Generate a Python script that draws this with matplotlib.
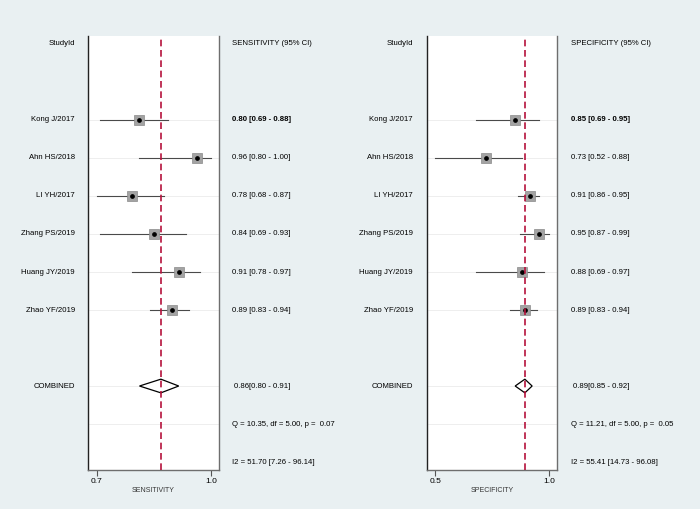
import matplotlib
matplotlib.use("Agg")
import matplotlib.pyplot as plt
from matplotlib.transforms import blended_transform_factory
from matplotlib.patches import Polygon

plt.rcParams['font.family'] = ['Liberation Sans', 'DejaVu Sans']

studies = ["Kong J/2017", "Ahn HS/2018", "LI YH/2017", "Zhang PS/2019", "Huang JY/2019", "Zhao YF/2019"]

sens = [0.80, 0.96, 0.78, 0.84, 0.91, 0.89]
sens_lo = [0.69, 0.80, 0.68, 0.69, 0.78, 0.83]
sens_hi = [0.88, 1.00, 0.87, 0.93, 0.97, 0.94]
sens_comb = [0.86, 0.80, 0.91]
sens_txt = ["0.80 [0.69 - 0.88]", "0.96 [0.80 - 1.00]", "0.78 [0.68 - 0.87]",
            "0.84 [0.69 - 0.93]", "0.91 [0.78 - 0.97]", "0.89 [0.83 - 0.94]"]
sens_comb_txt = "0.86[0.80 - 0.91]"
sens_q = "Q = 10.35, df = 5.00, p =  0.07"
sens_i2 = "I2 = 51.70 [7.26 - 96.14]"

spec = [0.85, 0.73, 0.91, 0.95, 0.88, 0.89]
spec_lo = [0.69, 0.52, 0.86, 0.87, 0.69, 0.83]
spec_hi = [0.95, 0.88, 0.95, 0.99, 0.97, 0.94]
spec_comb = [0.89, 0.85, 0.92]
spec_txt = ["0.85 [0.69 - 0.95]", "0.73 [0.52 - 0.88]", "0.91 [0.86 - 0.95]",
            "0.95 [0.87 - 0.99]", "0.88 [0.69 - 0.97]", "0.89 [0.83 - 0.94]"]
spec_comb_txt = "0.89[0.85 - 0.92]"
spec_q = "Q = 11.21, df = 5.00, p =  0.05"
spec_i2 = "I2 = 55.41 [14.73 - 96.08]"

bg = "#E9F0F2"
fs = 5.6

fig = plt.figure(figsize=(7, 5.09), dpi=100)
fig.patch.set_facecolor(bg)


def panel(ax_rect, lab_x, txt_x, est, lo, hi, comb, txt, comb_txt, q, i2, head, xlab, xlim):
    ax = fig.add_axes(ax_rect)
    ax.set_facecolor("white")
    rows = list(range(2, 2 + len(est)))
    for r in rows + [9, 10]:
        ax.axhline(r, color="#EBEBEB", lw=0.6, zorder=0)
    for r, e, l, h in zip(rows, est, lo, hi):
        ax.plot([l, h], [r, r], color="#4A4A4A", lw=0.8, zorder=2)
        ax.plot(e, r, marker="s", ms=7, color="#A3A3A3", mec="#8A8A8A", mew=0.5, zorder=3)
        ax.plot(e, r, marker="o", ms=2.4, color="black", zorder=4)
    # combined diamond
    c, cl, ch = comb
    dia = Polygon([[cl, 9], [c, 8.82], [ch, 9], [c, 9.18]], closed=True,
                  facecolor="white", edgecolor="black", lw=0.9, zorder=3)
    ax.add_patch(dia)
    ax.axvline(c, color="#B5123C", lw=1.2, ls=(0, (4, 2.2)), zorder=5)

    ax.set_xlim(*xlim)
    ax.set_ylim(11.21, -0.21)
    ax.set_yticks([])
    tks = [min(lo), max(hi)]
    ax.set_xticks(tks)
    ax.set_xticklabels(["%.1f" % t for t in tks], fontsize=6)
    ax.tick_params(axis="x", length=4, width=0.8, color="#555555", pad=2)
    ax.set_xlabel(xlab, fontsize=5, labelpad=1.5, color="#333333")
    ax.spines["top"].set_visible(False)
    ax.spines["left"].set_color("#222222")
    ax.spines["right"].set_color("#6E6E6E")
    ax.spines["bottom"].set_color("#6E6E6E")
    for s in ["left", "right", "bottom"]:
        ax.spines[s].set_linewidth(1.0)

    tr = blended_transform_factory(fig.transFigure, ax.transData)
    ax.text(lab_x, 0, "StudyId", transform=tr, ha="right", va="center", fontsize=fs, clip_on=False)
    ax.text(txt_x, 0, head, transform=tr, ha="left", va="center", fontsize=fs, clip_on=False)
    for i, (r, s, t) in enumerate(zip(rows, studies, txt)):
        ax.text(lab_x, r, s, transform=tr, ha="right", va="center", fontsize=fs, clip_on=False)
        ax.text(txt_x, r, t, transform=tr, ha="left", va="center", fontsize=fs,
                fontweight="bold" if i == 0 else "normal", clip_on=False)
    ax.text(lab_x, 9, "COMBINED", transform=tr, ha="right", va="center", fontsize=fs, clip_on=False)
    ax.text(txt_x + 0.003, 9, comb_txt, transform=tr, ha="left", va="center", fontsize=fs, clip_on=False)
    ax.text(txt_x, 10, q, transform=tr, ha="left", va="center", fontsize=fs, clip_on=False)
    ax.text(txt_x, 11, i2, transform=tr, ha="left", va="center", fontsize=fs, clip_on=False)
    return ax


panel([88 / 700, 39 / 509, 131 / 700, 434 / 509], 75 / 700, 232 / 700,
      sens, sens_lo, sens_hi, sens_comb, sens_txt, sens_comb_txt, sens_q, sens_i2,
      "SENSITIVITY (95% CI)", "SENSITIVITY", (0.6556, 1.023))
panel([427 / 700, 39 / 509, 130.3 / 700, 434 / 509], 413 / 700, 571 / 700,
      spec, spec_lo, spec_hi, spec_comb, spec_txt, spec_comb_txt, spec_q, spec_i2,
      "SPECIFICITY (95% CI)", "SPECIFICITY", (0.4857, 1.024))

fig.savefig("out.png", dpi=100, facecolor=bg)
